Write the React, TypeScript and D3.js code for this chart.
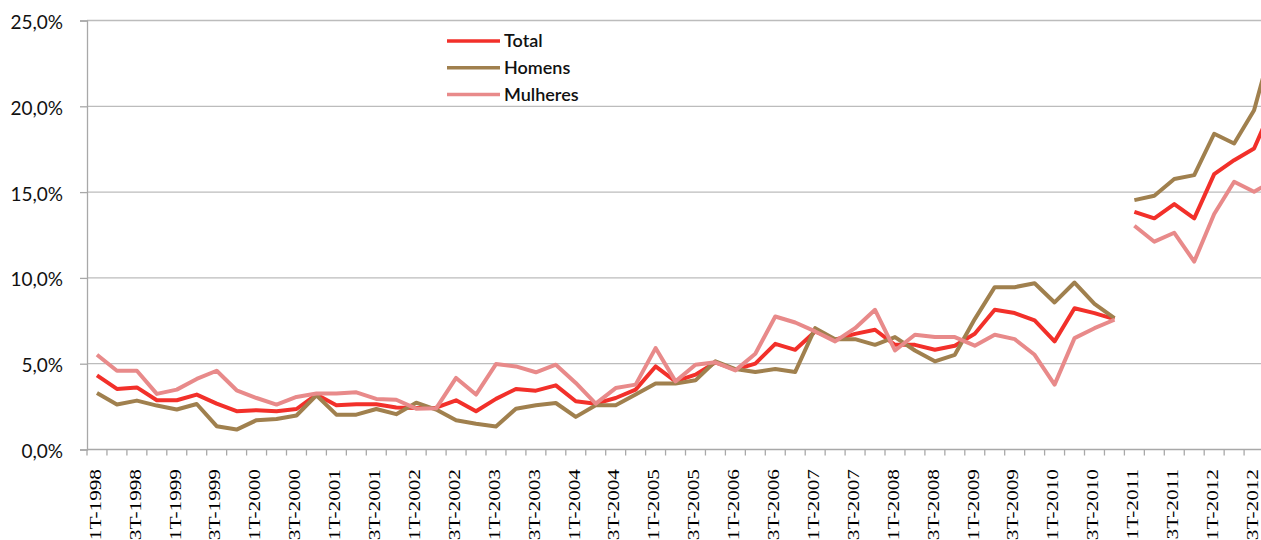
import React, { useRef, useEffect } from "react";
import * as d3 from "d3";

// quarters 1T-1998 .. 4T-2012
const years = [1998, 1999, 2000, 2001, 2002, 2003, 2004, 2005, 2006, 2007, 2008, 2009, 2010, 2011, 2012];
const quarterNames = ["1T", "2T", "3T", "4T"];
const quarters = years.flatMap((y) => quarterNames.map((q) => `${q}-${y}`));

// lines are broken here (new series starts)
const breakAt = "1T-2011";

const total = [
  4.32, 3.53, 3.62, 2.87, 2.87, 3.2, 2.67, 2.23,
  2.29, 2.23, 2.36, 3.2, 2.58, 2.64, 2.64, 2.45,
  2.42, 2.44, 2.87, 2.23, 2.95, 3.53, 3.43, 3.74,
  2.81, 2.67, 3.0, 3.49, 4.84, 3.97, 4.36, 5.08,
  4.65, 5.0, 6.16, 5.81, 6.88, 6.4, 6.74, 6.98,
  6.1, 6.1, 5.81, 6.05, 6.74, 8.14, 7.95, 7.52,
  6.3, 8.23, 7.95, 7.6, 13.85, 13.47, 14.3, 13.47,
  16.05, 16.86, 17.54, 20.2,
];

const homens = [
  3.29, 2.62, 2.85, 2.56, 2.33, 2.65, 1.36, 1.16,
  1.71, 1.78, 1.98, 3.16, 2.03, 2.03, 2.36, 2.06,
  2.73, 2.33, 1.7, 1.5, 1.34, 2.38, 2.58, 2.71,
  1.9, 2.58, 2.58, 3.2, 3.84, 3.84, 4.03, 5.14,
  4.69, 4.52, 4.69, 4.52, 7.07, 6.43, 6.43, 6.1,
  6.55, 5.77, 5.14, 5.52, 7.6, 9.46, 9.46, 9.69,
  8.57, 9.73, 8.49, 7.65, 14.53, 14.79, 15.76, 15.99,
  18.4, 17.83, 19.77, 24.0,
];

const mulheres = [
  5.52, 4.59, 4.59, 3.24, 3.49, 4.11, 4.59, 3.45,
  3.0, 2.62, 3.06, 3.26, 3.26, 3.33, 2.95, 2.9,
  2.38, 2.4, 4.17, 3.2, 4.98, 4.84, 4.5, 4.94,
  3.88, 2.67, 3.58, 3.78, 5.91, 3.97, 4.94, 5.08,
  4.61, 5.58, 7.75, 7.4, 6.88, 6.3, 7.07, 8.14,
  5.77, 6.69, 6.55, 6.55, 6.05, 6.69, 6.43, 5.52,
  3.78, 6.49, 7.07, 7.56, 13.04, 12.11, 12.63, 10.95,
  13.72, 15.6, 15.02, 15.7,
];

const yTicks = [0, 5, 10, 15, 20, 25];

const series = [
  { name: "Total", values: total, color: "#f2302a" },
  { name: "Homens", values: homens, color: "#a0804e" },
  { name: "Mulheres", values: mulheres, color: "#e88a8a" },
];

const W = 1261;
const H = 540;

function LineChart() {
  const svgRef = useRef(null);

  useEffect(() => {
    const svg = d3.select(svgRef.current);
    svg.selectAll("*").remove();

    const left = 87;
    const top = 20.5;
    const bottom = 449.5;
    const step = 19.95;

    const x = d3.scaleBand().domain(quarters).range([left, left + quarters.length * step]);
    const y = d3.scaleLinear().domain([0, 25]).range([bottom, top]);
    const bw = x.bandwidth();

    // gridlines
    svg
      .append("g")
      .selectAll("line")
      .data(yTicks.filter((d) => d > 0))
      .join("line")
      .attr("x1", left)
      .attr("x2", W)
      .attr("y1", (d) => y(d))
      .attr("y2", (d) => y(d))
      .attr("stroke", "#bcbcbc")
      .attr("stroke-width", 1.3);

    // y axis
    const yAxis = d3
      .axisLeft(y)
      .tickValues(yTicks)
      .tickSize(7)
      .tickPadding(17)
      .tickFormat((d) => d3.format(".1f")(d).replace(".", ",") + "%");
    const gy = svg.append("g").attr("transform", `translate(${left},0)`).call(yAxis);
    gy.select(".domain").attr("stroke", "#a8a8a8").attr("stroke-width", 1.3);
    gy.selectAll(".tick line").attr("stroke", "#a8a8a8").attr("stroke-width", 1.3);
    gy.selectAll("text")
      .attr("fill", "#111")
      .attr("dy", "0.42em")
      .style("font-family", "Lato, 'Open Sans', sans-serif")
      .style("font-size", "19px");

    // x axis labels (every other quarter)
    const sx = 1.25;
    const xAxis = d3
      .axisBottom(x)
      .tickValues(quarters.filter((q, i) => i % 2 === 0))
      .tickSize(0);
    const gx = svg.append("g").attr("transform", `translate(0,${bottom})`).call(xAxis);
    gx.select(".domain").remove();
    gx.selectAll("text")
      .attr("x", -19.5 / sx)
      .attr("y", 0)
      .attr("dy", "0.22em")
      .attr("text-anchor", "end")
      .attr("transform", `rotate(-90) scale(${sx},1)`)
      .attr("fill", "#000")
      .style("font-family", "'Liberation Serif', 'Times New Roman', serif")
      .style("font-size", "17px");

    // x axis line + tick marks at quarter boundaries
    svg
      .append("line")
      .attr("x1", left)
      .attr("x2", W)
      .attr("y1", bottom)
      .attr("y2", bottom)
      .attr("stroke", "#a8a8a8")
      .attr("stroke-width", 1.3);
    svg
      .append("g")
      .selectAll("line")
      .data(quarters)
      .join("line")
      .attr("x1", (d) => x(d))
      .attr("x2", (d) => x(d))
      .attr("y1", bottom)
      .attr("y2", bottom + 6)
      .attr("stroke", "#a8a8a8")
      .attr("stroke-width", 1.3);

    // lines, split into two segments at the series break
    const breakIdx = quarters.indexOf(breakAt);
    const line = d3
      .line()
      .x((d) => x(d.q) + bw / 2)
      .y((d) => y(d.v));

    series.forEach((s) => {
      const pts = quarters.map((q, i) => ({ q, v: s.values[i] }));
      [pts.slice(0, breakIdx), pts.slice(breakIdx)].forEach((seg) => {
        svg
          .append("path")
          .datum(seg)
          .attr("d", line)
          .attr("fill", "none")
          .attr("stroke", s.color)
          .attr("stroke-width", 4)
          .attr("stroke-linejoin", "round");
      });
    });

    // legend
    const legend = svg.append("g").attr("transform", "translate(447,41)");
    const rows = legend
      .selectAll("g")
      .data(series)
      .join("g")
      .attr("transform", (d, i) => `translate(0,${i * 26.7})`);
    rows
      .append("line")
      .attr("x1", 0)
      .attr("x2", 53)
      .attr("stroke", (d) => d.color)
      .attr("stroke-width", 3.5);
    rows
      .append("text")
      .attr("x", 57)
      .attr("dy", "0.36em")
      .text((d) => d.name)
      .attr("fill", "#111")
      .style("font-family", "Lato, 'Open Sans', sans-serif")
      .style("font-size", "18px")
      .style("font-weight", 600);
  }, []);

  return (
    <div style={{ position: "absolute", left: 0, top: 0, background: "#fff" }}>
      <svg ref={svgRef} width={W} height={H} style={{ display: "block" }} />
    </div>
  );
}

export default function App() {
  return <LineChart />;
}
